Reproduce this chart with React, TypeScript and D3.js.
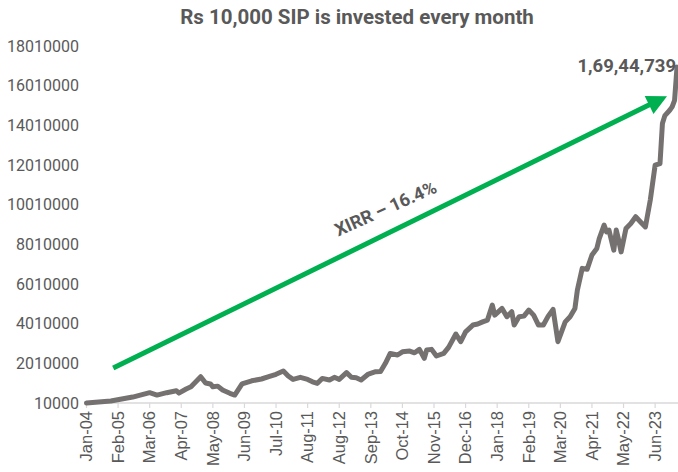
import React from "react";
import * as d3 from "d3";

const W = 678;
const H = 472;

// months counted from Jan-04 (0) and portfolio value (Rs)
const monthIndex = [0,10,19,26,29,33,37,38,41,43,47,49,51,52,54,56,59,61,64,68,72,75,78,81,83,85,88,91,93,95,97,100,102,104,107,109,111,113,116,119,121,123,125,128,130,133,135,137,139,140,142,144,147,149,152,154,156,159,161,163,165,167,168,171,173,175,176,178,180,182,184,186,188,190,192,194,197,199,201,202,204,206,208,210,211,213,214,215,217,218,219,220,222,224,226,228,230,232,234,236,237,238,240,241,242,243];
const portfolioValue = [10000,110000,310000,530000,410000,530000,630000,510000,715000,830000,1335000,1020000,970000,830000,860000,665000,500000,410000,970000,1130000,1220000,1335000,1455000,1620000,1370000,1200000,1305000,1200000,1080000,1000000,1250000,1170000,1305000,1200000,1540000,1305000,1280000,1170000,1470000,1590000,1600000,2010000,2510000,2430000,2590000,2630000,2540000,2715000,2260000,2680000,2715000,2380000,2510000,2816000,3486000,3100000,3600000,3940000,3990000,4100000,4190000,4950000,4440000,4780000,4360000,4610000,3940000,4360000,4390000,4695000,4440000,3940000,3940000,4390000,4730000,3100000,4100000,4360000,4780000,5700000,6800000,6750000,7470000,7800000,8300000,8980000,8640000,8730000,7720000,8730000,8220000,7630000,8810000,9060000,9400000,9140000,8890000,10240000,12000000,12080000,14100000,14500000,14770000,14940000,15270000,16944739];

const xTickLabels = ["Jan-04","Feb-05","Mar-06","Apr-07","May-08","Jun-09","Jul-10","Aug-11","Aug-12","Sep-13","Oct-14","Nov-15","Dec-16","Jan-18","Feb-19","Mar-20","Apr-21","May-22","Jun-23"];
const xTickStep = 13;
const yTicks = [10000,2010000,4010000,6010000,8010000,10010000,12010000,14010000,16010000,18010000];

const title = "Rs 10,000 SIP is invested every month";
const finalLabel = "1,69,44,739";
const xirrLabel = "XIRR \u2013 16.4%";
// arrow annotation in data space: [month, value]
const arrowStart = [11, 1770000];
const arrowEnd = [238.9, 15480000];

export default function App() {
  const x = d3.scaleLinear().domain([0, 243]).range([86.5, 677]);
  const y = d3.scaleLinear().domain([10000, 18010000]).range([403, 46]);
  const pts = monthIndex.map((m, i) => [m, portfolioValue[i]] as [number, number]);
  const line = d3.line<[number, number]>().x(d => x(d[0])).y(d => y(d[1]));

  const p0 = [x(arrowStart[0]), y(arrowStart[1])];
  const p1 = [x(arrowEnd[0]), y(arrowEnd[1])];
  const dx = p1[0] - p0[0], dy = p1[1] - p0[1];
  const len = Math.hypot(dx, dy);
  const ux = dx / len, uy = dy / len;
  const nx = -uy, ny = ux;
  const headL = 20, headW = 10;
  const bx = p1[0] - ux * headL, by = p1[1] - uy * headL;
  const head = `M${p1[0]},${p1[1]}L${bx + nx * headW},${by + ny * headW}L${bx - nx * headW},${by - ny * headW}Z`;
  const angle = Math.atan2(dy, dx) * 180 / Math.PI;
  const mid = [p0[0] + dx * 0.5, p0[1] + dy * 0.5];

  const tickXs = xTickLabels.map((_, i) => x(i * xTickStep));

  return (
    <svg width={W} height={H} style={{ position: "absolute", left: 0, top: 0, background: "#fff" }}>
      <text x={357} y={24} textAnchor="middle" fontFamily="Roboto" fontWeight="bold" fontSize={20.5} fill="#595959">{title}</text>
      {yTicks.map(t => (
        <text key={t} x={79} y={y(t)} dy="0.36em" textAnchor="end" fontFamily="Roboto" fontSize={16} fill="#595959">{t}</text>
      ))}
      <line x1={86} x2={678} y1={403} y2={403} stroke="#d9d9d9" strokeWidth={1.5} />
      {tickXs.map((tx, i) => (
        <line key={i} x1={tx} x2={tx} y1={403} y2={408} stroke="#d9d9d9" strokeWidth={1.2} />
      ))}
      {xTickLabels.map((lab, i) => (
        <text key={lab + i} transform={`translate(${tickXs[i]},411) rotate(-90)`} dy="0.35em" textAnchor="end" fontFamily="Liberation Sans, Arial" fontSize={16.5} fill="#595959">{lab}</text>
      ))}
      <path d={line(pts) || ""} fill="none" stroke="#767171" strokeWidth={5} strokeLinejoin="round" strokeLinecap="round" />
      <line x1={p0[0]} y1={p0[1]} x2={bx + ux * 2} y2={by + uy * 2} stroke="#00B050" strokeWidth={5} />
      <path d={head} fill="#00B050" />
      <text transform={`translate(${mid[0] - 2},${mid[1] - 18}) rotate(${angle + 2})`} textAnchor="middle" fontFamily="Roboto" fontWeight="bold" fontSize={18} fill="#595959">{xirrLabel}</text>
      <text x={676} y={72} textAnchor="end" fontFamily="Roboto" fontWeight="bold" fontSize={18.5} fill="#595959">{finalLabel}</text>
    </svg>
  );
}
